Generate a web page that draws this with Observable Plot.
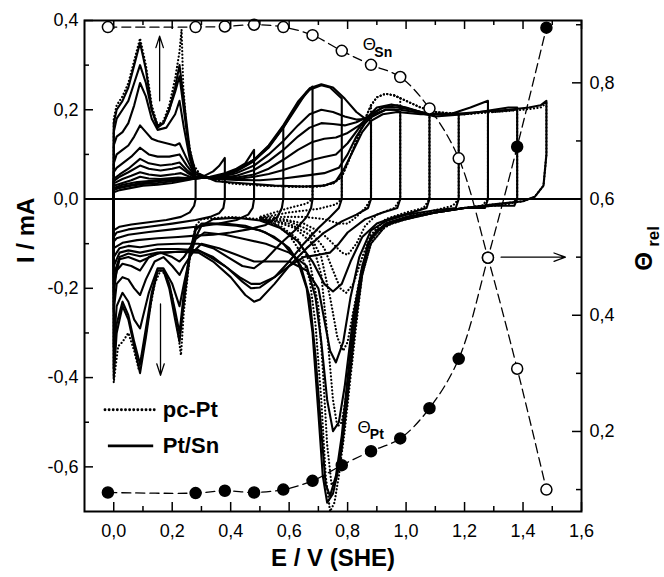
<!DOCTYPE html>
<html><head><meta charset="utf-8">
<script src="https://cdn.jsdelivr.net/npm/d3@7"></script>
<script src="https://cdn.jsdelivr.net/npm/@observablehq/plot@0.6"></script>
<style>body{margin:0;background:#fff}</style>
</head><body><div id="chart"></div>
<script>
// ---- Θ data (right axis) ----
const thetaE  = [-0.02, 0.28, 0.38, 0.48, 0.58, 0.68, 0.78, 0.88, 0.98, 1.08, 1.18, 1.28, 1.38, 1.48];
const thetaSn = [0.896, 0.896, 0.897, 0.900, 0.896, 0.882, 0.855, 0.831, 0.810, 0.756, 0.670, 0.499, 0.308, 0.100];
const thetaPt = [0.095, 0.094, 0.098, 0.095, 0.100, 0.115, 0.142, 0.166, 0.188, 0.240, 0.325, 0.499, 0.690, 0.895];

// ---- Pt/Sn CVs (solid), [E, I], upper limit in the name ----
const S028 = [[0,-0.07],[0,0.015],[0.02,0.02],[0.06,0.025],[0.1,0.03],[0.15,0.032],[0.2,0.036],[0.25,0.042],[0.28,0.046],[0.28,0.0],[0.275,-0.015],[0.26,-0.03],[0.23,-0.04],[0.18,-0.047],[0.12,-0.052],[0.06,-0.057],[0.02,-0.062],[0,-0.07]];
const S038 = [[0,-0.085],[0,0.02],[0.02,0.025],[0.06,0.03],[0.1,0.034],[0.15,0.036],[0.2,0.04],[0.25,0.044],[0.28,0.046],[0.31,0.052],[0.34,0.062],[0.36,0.074],[0.38,0.092],[0.38,0.0],[0.375,-0.02],[0.36,-0.032],[0.33,-0.04],[0.28,-0.047],[0.2,-0.055],[0.12,-0.062],[0.05,-0.068],[0.01,-0.075],[0,-0.085]];
const S048 = [[0,-0.095],[0,0.022],[0.03,0.028],[0.08,0.034],[0.15,0.04],[0.22,0.044],[0.28,0.046],[0.33,0.05],[0.38,0.058],[0.42,0.068],[0.45,0.08],[0.48,0.11],[0.48,0.0],[0.475,-0.02],[0.46,-0.035],[0.42,-0.047],[0.36,-0.055],[0.28,-0.062],[0.2,-0.068],[0.12,-0.074],[0.05,-0.08],[0.01,-0.088],[0,-0.095]];
const S058 = [[0,-0.11],[0,0.025],[0.03,0.032],[0.08,0.038],[0.15,0.042],[0.22,0.045],[0.28,0.046],[0.35,0.05],[0.42,0.062],[0.48,0.085],[0.52,0.11],[0.55,0.135],[0.58,0.164],[0.58,0.0],[0.575,-0.02],[0.56,-0.04],[0.52,-0.058],[0.46,-0.068],[0.4,-0.075],[0.34,-0.08],[0.28,-0.082],[0.22,-0.085],[0.15,-0.088],[0.08,-0.092],[0.03,-0.098],[0,-0.11]];
const S068 = [[0,-0.13],[0,0.03],[0.03,0.036],[0.06,0.042],[0.09,0.05],[0.12,0.046],[0.16,0.045],[0.22,0.048],[0.28,0.046],[0.35,0.05],[0.42,0.064],[0.48,0.088],[0.53,0.115],[0.58,0.16],[0.63,0.21],[0.66,0.24],[0.68,0.252],[0.68,0.0],[0.675,-0.02],[0.66,-0.04],[0.62,-0.07],[0.57,-0.1],[0.52,-0.135],[0.48,-0.155],[0.44,-0.15],[0.39,-0.13],[0.34,-0.11],[0.29,-0.1],[0.22,-0.1],[0.15,-0.102],[0.09,-0.108],[0.05,-0.105],[0.02,-0.11],[0,-0.13]];
const S078 = [[0,-0.15],[0,0.035],[0.03,0.045],[0.06,0.052],[0.09,0.06],[0.12,0.055],[0.16,0.052],[0.21,0.056],[0.23,0.058],[0.26,0.05],[0.28,0.046],[0.35,0.05],[0.42,0.064],[0.48,0.088],[0.53,0.118],[0.58,0.16],[0.63,0.215],[0.67,0.245],[0.71,0.255],[0.74,0.25],[0.78,0.225],[0.78,0.0],[0.77,-0.02],[0.74,-0.04],[0.7,-0.065],[0.65,-0.1],[0.6,-0.14],[0.55,-0.175],[0.5,-0.198],[0.47,-0.2],[0.44,-0.185],[0.39,-0.155],[0.34,-0.13],[0.29,-0.115],[0.22,-0.112],[0.15,-0.112],[0.09,-0.12],[0.05,-0.115],[0.02,-0.12],[0,-0.15]];
const S088 = [[0,-0.17],[0,0.04],[0.02,0.05],[0.05,0.06],[0.09,0.075],[0.12,0.068],[0.16,0.064],[0.2,0.068],[0.225,0.072],[0.25,0.06],[0.28,0.047],[0.35,0.05],[0.42,0.064],[0.48,0.088],[0.53,0.12],[0.58,0.165],[0.63,0.218],[0.67,0.248],[0.71,0.257],[0.75,0.25],[0.79,0.225],[0.83,0.195],[0.86,0.18],[0.88,0.175],[0.88,0.0],[0.87,-0.02],[0.83,-0.035],[0.78,-0.05],[0.72,-0.075],[0.66,-0.11],[0.6,-0.15],[0.55,-0.19],[0.5,-0.225],[0.48,-0.23],[0.45,-0.215],[0.4,-0.175],[0.34,-0.14],[0.29,-0.12],[0.22,-0.118],[0.15,-0.12],[0.09,-0.128],[0.05,-0.122],[0.02,-0.13],[0,-0.17]];
const S098 = [[0,-0.19],[0,0.045],[0.02,0.055],[0.05,0.068],[0.09,0.09],[0.12,0.08],[0.16,0.075],[0.2,0.078],[0.225,0.082],[0.25,0.065],[0.28,0.048],[0.35,0.048],[0.42,0.058],[0.48,0.075],[0.53,0.1],[0.58,0.13],[0.63,0.165],[0.67,0.19],[0.71,0.2],[0.75,0.195],[0.79,0.185],[0.83,0.178],[0.87,0.18],[0.9,0.19],[0.93,0.2],[0.96,0.2],[0.98,0.195],[0.98,0.0],[0.97,-0.02],[0.92,-0.03],[0.86,-0.045],[0.8,-0.075],[0.77,-0.1],[0.74,-0.12],[0.7,-0.125],[0.65,-0.13],[0.6,-0.15],[0.55,-0.175],[0.5,-0.19],[0.47,-0.19],[0.43,-0.175],[0.38,-0.15],[0.33,-0.13],[0.29,-0.115],[0.22,-0.118],[0.15,-0.122],[0.09,-0.14],[0.05,-0.13],[0.02,-0.135],[0,-0.19]];
const S108 = [[0,-0.21],[0,0.06],[0.01,0.07],[0.03,0.08],[0.06,0.095],[0.09,0.115],[0.12,0.1],[0.15,0.095],[0.19,0.095],[0.225,0.1],[0.25,0.075],[0.28,0.05],[0.35,0.047],[0.42,0.052],[0.48,0.065],[0.53,0.085],[0.58,0.11],[0.63,0.14],[0.67,0.16],[0.71,0.17],[0.75,0.168],[0.79,0.165],[0.83,0.172],[0.87,0.185],[0.9,0.205],[0.95,0.212],[1.0,0.205],[1.05,0.195],[1.08,0.19],[1.08,0.0],[1.07,-0.02],[1.02,-0.03],[0.96,-0.04],[0.9,-0.055],[0.85,-0.085],[0.81,-0.14],[0.78,-0.19],[0.75,-0.207],[0.72,-0.19],[0.68,-0.14],[0.63,-0.095],[0.57,-0.065],[0.5,-0.048],[0.42,-0.042],[0.34,-0.045],[0.3,-0.06],[0.27,-0.1],[0.24,-0.13],[0.225,-0.14],[0.2,-0.13],[0.16,-0.12],[0.12,-0.13],[0.09,-0.16],[0.06,-0.15],[0.03,-0.145],[0.01,-0.16],[0,-0.21]];
const S118 = [[0,-0.25],[0,0.08],[0.01,0.1],[0.03,0.11],[0.05,0.12],[0.07,0.14],[0.09,0.165],[0.11,0.15],[0.13,0.135],[0.15,0.13],[0.18,0.125],[0.21,0.12],[0.225,0.125],[0.25,0.09],[0.28,0.05],[0.35,0.046],[0.42,0.048],[0.48,0.055],[0.53,0.068],[0.58,0.088],[0.63,0.11],[0.68,0.128],[0.72,0.135],[0.76,0.138],[0.8,0.148],[0.84,0.165],[0.88,0.19],[0.92,0.205],[0.97,0.205],[1.02,0.2],[1.08,0.19],[1.13,0.19],[1.18,0.192],[1.18,0.0],[1.17,-0.02],[1.1,-0.025],[1.0,-0.035],[0.93,-0.05],[0.88,-0.07],[0.84,-0.13],[0.81,-0.22],[0.785,-0.32],[0.76,-0.366],[0.74,-0.34],[0.72,-0.27],[0.7,-0.2],[0.66,-0.16],[0.6,-0.14],[0.54,-0.14],[0.48,-0.14],[0.42,-0.125],[0.36,-0.11],[0.3,-0.1],[0.27,-0.12],[0.24,-0.15],[0.225,-0.17],[0.2,-0.15],[0.17,-0.13],[0.14,-0.14],[0.11,-0.18],[0.09,-0.215],[0.07,-0.2],[0.05,-0.18],[0.03,-0.175],[0.01,-0.19],[0,-0.25]];
const S128 = [[0,-0.33],[0,0.12],[0.01,0.14],[0.03,0.15],[0.05,0.17],[0.07,0.21],[0.09,0.26],[0.11,0.23],[0.13,0.18],[0.15,0.155],[0.18,0.16],[0.21,0.19],[0.225,0.22],[0.24,0.16],[0.26,0.09],[0.28,0.05],[0.35,0.045],[0.42,0.045],[0.48,0.05],[0.53,0.056],[0.58,0.065],[0.63,0.076],[0.68,0.088],[0.72,0.094],[0.76,0.1],[0.8,0.125],[0.84,0.16],[0.88,0.19],[0.92,0.205],[0.97,0.21],[1.02,0.2],[1.08,0.19],[1.15,0.19],[1.22,0.205],[1.28,0.22],[1.28,0.0],[1.27,-0.02],[1.2,-0.02],[1.1,-0.03],[1.0,-0.04],[0.93,-0.055],[0.88,-0.085],[0.85,-0.15],[0.82,-0.26],[0.79,-0.42],[0.77,-0.5],[0.75,-0.52],[0.73,-0.45],[0.71,-0.32],[0.69,-0.22],[0.66,-0.15],[0.6,-0.12],[0.52,-0.1],[0.45,-0.09],[0.38,-0.08],[0.31,-0.075],[0.28,-0.09],[0.26,-0.13],[0.24,-0.19],[0.225,-0.24],[0.2,-0.19],[0.17,-0.155],[0.15,-0.155],[0.12,-0.21],[0.09,-0.29],[0.07,-0.27],[0.05,-0.23],[0.03,-0.21],[0.01,-0.24],[0,-0.33]];
const S138 = [[0,-0.38],[0,0.15],[0.01,0.18],[0.03,0.2],[0.05,0.22],[0.07,0.26],[0.09,0.3],[0.11,0.26],[0.13,0.2],[0.15,0.165],[0.17,0.17],[0.19,0.2],[0.21,0.24],[0.225,0.275],[0.24,0.2],[0.26,0.1],[0.28,0.055],[0.35,0.045],[0.42,0.043],[0.5,0.042],[0.58,0.046],[0.65,0.052],[0.72,0.058],[0.77,0.07],[0.8,0.1],[0.83,0.14],[0.86,0.17],[0.89,0.19],[0.93,0.2],[0.98,0.2],[1.03,0.195],[1.1,0.185],[1.2,0.19],[1.3,0.2],[1.35,0.205],[1.38,0.205],[1.38,0.0],[1.37,-0.015],[1.3,-0.015],[1.2,-0.02],[1.1,-0.03],[1.0,-0.045],[0.94,-0.055],[0.9,-0.07],[0.87,-0.1],[0.85,-0.16],[0.82,-0.28],[0.8,-0.4],[0.78,-0.53],[0.76,-0.62],[0.74,-0.665],[0.725,-0.64],[0.71,-0.52],[0.69,-0.35],[0.67,-0.22],[0.64,-0.15],[0.6,-0.11],[0.55,-0.085],[0.5,-0.07],[0.42,-0.06],[0.33,-0.055],[0.28,-0.065],[0.26,-0.12],[0.24,-0.21],[0.225,-0.3],[0.21,-0.25],[0.19,-0.19],[0.17,-0.16],[0.15,-0.16],[0.13,-0.21],[0.11,-0.29],[0.09,-0.37],[0.07,-0.32],[0.05,-0.26],[0.03,-0.23],[0.01,-0.28],[0,-0.38]];
const S148 = [[0,-0.4],[0,0.17],[0.01,0.2],[0.03,0.22],[0.05,0.25],[0.07,0.3],[0.09,0.35],[0.11,0.29],[0.13,0.2],[0.15,0.16],[0.17,0.17],[0.19,0.2],[0.21,0.25],[0.225,0.3],[0.24,0.22],[0.26,0.11],[0.28,0.06],[0.35,0.04],[0.45,0.035],[0.55,0.03],[0.65,0.028],[0.72,0.03],[0.76,0.04],[0.79,0.07],[0.82,0.11],[0.85,0.15],[0.88,0.175],[0.92,0.19],[0.97,0.195],[1.05,0.19],[1.15,0.19],[1.25,0.195],[1.35,0.2],[1.42,0.205],[1.46,0.21],[1.48,0.22],[1.48,0.1],[1.47,0.03],[1.44,0.005],[1.4,-0.005],[1.3,-0.012],[1.2,-0.02],[1.1,-0.03],[1.0,-0.042],[0.95,-0.052],[0.9,-0.07],[0.87,-0.1],[0.85,-0.16],[0.83,-0.26],[0.81,-0.38],[0.79,-0.5],[0.77,-0.6],[0.75,-0.66],[0.73,-0.68],[0.715,-0.62],[0.7,-0.48],[0.68,-0.3],[0.66,-0.2],[0.63,-0.14],[0.58,-0.1],[0.52,-0.075],[0.45,-0.06],[0.38,-0.055],[0.3,-0.055],[0.28,-0.07],[0.26,-0.13],[0.24,-0.23],[0.225,-0.32],[0.21,-0.27],[0.19,-0.2],[0.17,-0.16],[0.15,-0.16],[0.13,-0.22],[0.11,-0.31],[0.09,-0.39],[0.07,-0.33],[0.05,-0.27],[0.03,-0.24],[0.01,-0.3],[0,-0.4]];

// ---- pc-Pt CVs (dotted): full CV to 1.48 V and the oxide-region parts for lower limits ----
const P148 = [[0,-0.41],[0,0.18],[0.01,0.21],[0.03,0.23],[0.05,0.26],[0.07,0.31],[0.09,0.36],[0.11,0.3],[0.13,0.21],[0.15,0.165],[0.17,0.175],[0.19,0.21],[0.21,0.27],[0.225,0.33],[0.232,0.38],[0.238,0.25],[0.25,0.15],[0.27,0.08],[0.3,0.05],[0.4,0.035],[0.5,0.03],[0.6,0.028],[0.7,0.028],[0.75,0.035],[0.78,0.05],[0.8,0.08],[0.83,0.13],[0.86,0.18],[0.88,0.21],[0.9,0.228],[0.93,0.236],[0.96,0.232],[1.0,0.22],[1.05,0.205],[1.1,0.195],[1.2,0.19],[1.3,0.195],[1.4,0.2],[1.46,0.205],[1.48,0.215],[1.48,0.1],[1.47,0.03],[1.44,0.005],[1.4,-0.005],[1.3,-0.012],[1.2,-0.02],[1.1,-0.03],[1.0,-0.045],[0.95,-0.055],[0.9,-0.075],[0.87,-0.11],[0.85,-0.17],[0.83,-0.28],[0.81,-0.4],[0.79,-0.52],[0.77,-0.62],[0.755,-0.68],[0.74,-0.7],[0.725,-0.62],[0.71,-0.45],[0.69,-0.28],[0.67,-0.18],[0.64,-0.12],[0.6,-0.08],[0.55,-0.055],[0.5,-0.045],[0.4,-0.04],[0.3,-0.045],[0.28,-0.06],[0.26,-0.13],[0.24,-0.25],[0.23,-0.35],[0.22,-0.3],[0.2,-0.22],[0.18,-0.17],[0.16,-0.16],[0.14,-0.19],[0.12,-0.26],[0.1,-0.34],[0.085,-0.38],[0.07,-0.34],[0.05,-0.3],[0.03,-0.32],[0.015,-0.33],[0,-0.41]];
const P068 = [[0.6,0.028],[0.68,0.028],[0.68,0.0],[0.66,-0.01],[0.6,-0.02],[0.55,-0.03],[0.5,-0.04]];
const P078 = [[0.6,0.028],[0.7,0.028],[0.75,0.035],[0.78,0.05],[0.78,0.0],[0.76,-0.012],[0.7,-0.022],[0.6,-0.03],[0.5,-0.042]];
const P088 = [[0.75,0.035],[0.78,0.05],[0.8,0.08],[0.83,0.13],[0.86,0.18],[0.88,0.21],[0.88,0.0],[0.86,-0.02],[0.83,-0.04],[0.8,-0.055],[0.77,-0.055],[0.72,-0.045],[0.65,-0.04],[0.58,-0.04],[0.5,-0.042]];
const P098 = [[0.88,0.21],[0.9,0.228],[0.93,0.236],[0.96,0.232],[0.98,0.226],[0.98,0.0],[0.96,-0.02],[0.9,-0.035],[0.86,-0.06],[0.83,-0.1],[0.8,-0.125],[0.78,-0.12],[0.75,-0.1],[0.71,-0.075],[0.65,-0.055],[0.58,-0.045],[0.5,-0.043]];
const P108 = [[0.96,0.232],[1.0,0.22],[1.05,0.205],[1.08,0.2],[1.08,0.0],[1.06,-0.02],[1.0,-0.03],[0.93,-0.045],[0.88,-0.08],[0.85,-0.13],[0.82,-0.19],[0.795,-0.21],[0.775,-0.2],[0.75,-0.16],[0.72,-0.11],[0.67,-0.07],[0.6,-0.05],[0.5,-0.045]];
const P118 = [[1.1,0.195],[1.18,0.19],[1.18,0.0],[1.16,-0.015],[1.1,-0.025],[1.0,-0.04],[0.93,-0.055],[0.88,-0.09],[0.85,-0.15],[0.82,-0.25],[0.8,-0.32],[0.785,-0.34],[0.765,-0.31],[0.74,-0.22],[0.71,-0.13],[0.67,-0.08],[0.6,-0.055],[0.5,-0.045]];
const P128 = [[1.2,0.19],[1.28,0.195],[1.28,0.0],[1.26,-0.015],[1.2,-0.02],[1.1,-0.03],[1.0,-0.043],[0.93,-0.06],[0.88,-0.1],[0.85,-0.17],[0.82,-0.3],[0.8,-0.42],[0.78,-0.5],[0.765,-0.51],[0.75,-0.45],[0.73,-0.3],[0.71,-0.17],[0.68,-0.1],[0.62,-0.065],[0.55,-0.05],[0.5,-0.045]];
const P138 = [[1.3,0.195],[1.38,0.2],[1.38,0.0],[1.36,-0.01],[1.3,-0.015],[1.2,-0.02],[1.1,-0.03],[1.0,-0.045],[0.93,-0.06],[0.88,-0.1],[0.85,-0.17],[0.82,-0.31],[0.8,-0.44],[0.78,-0.56],[0.76,-0.63],[0.745,-0.64],[0.73,-0.55],[0.715,-0.38],[0.7,-0.24],[0.67,-0.14],[0.63,-0.09],[0.57,-0.06],[0.5,-0.045]];

// ---- ticks, annotations ----
const xMajor = [0, 0.2, 0.4, 0.6, 0.8, 1.0, 1.2, 1.4, 1.6];
const xMinor = [0.1, 0.3, 0.5, 0.7, 0.9, 1.1, 1.3, 1.5];
const yMajor = [-0.6, -0.4, -0.2, 0, 0.2, 0.4];
const yMinor = [-0.5, -0.3, -0.1, 0.1, 0.3];
const thMajor = [0.2, 0.4, 0.6, 0.8];
const thMinor = [0.1, 0.3, 0.5, 0.7, 0.9];
const legendItems = [
  {x1: -0.03, x2: 0.14, y: -0.472, label: "pc-Pt", dotted: true},
  {x1: -0.02, x2: 0.135, y: -0.553, label: "Pt/Sn", dotted: false}
];
const iArrows = [{x1: 0.157, y1: 0.22, x2: 0.157, y2: 0.365}, {x1: 0.16, y1: -0.235, x2: 0.16, y2: -0.395}];
const thArrow = [{x1: 1.325, t: 0.5, x2: 1.545}];
const thLabels = [
  {E: 0.874, t: 0.866, main: "Θ", sub: "Sn", sE: 0.922, st: 0.853},
  {E: 0.856, t: 0.207, main: "Θ", sub: "Pt", sE: 0.9, st: 0.194}
];

// ---- scales ----
const thetaToI = t => (t - 0.6) * 1.1 / 0.845;   // right axis shares the frame
const iToTheta = i => i * 0.845 / 1.1 + 0.6;
const fmt = d => (Math.abs(d) < 1e-9 ? 0 : d).toFixed(1).replace(".", ",");

const W = 664, H = 577, mL = 84, mR = 83, mT = 20, mB = 66;
const innerW = W - mL - mR, innerH = H - mT - mB;

const toRows = (obj) => Object.entries(obj).flatMap(([id, pts]) => pts.map(([E, I]) => ({id, E, I})));
const solidRows = toRows({S028, S038, S048, S058, S068, S078, S088, S098, S108, S118, S128, S138, S148});
const dotRows = toRows({P148, P068, P078, P088, P098, P108, P118, P128, P138});
const thRows = thetaE.map((E, i) => ({E, sn: thetaSn[i], pt: thetaPt[i]}));

const FONT = "Liberation Sans, Arial, Helvetica, sans-serif";

const plot = Plot.plot({
  width: W, height: H,
  marginLeft: mL, marginRight: mR, marginTop: mT, marginBottom: mB,
  style: {fontFamily: FONT, background: "white", color: "black"},
  x: {domain: [-0.1, 1.6]},
  y: {domain: [-0.7, 0.4]},
  marks: [
    // CVs
    Plot.line(dotRows, {x: "E", y: "I", z: "id", stroke: "black", strokeWidth: 2.2, strokeDasharray: "0.1,3.4", strokeLinecap: "round", strokeLinejoin: "round"}),
    Plot.line(solidRows, {x: "E", y: "I", z: "id", stroke: "black", strokeWidth: 2.1, strokeLinejoin: "round"}),
    Plot.ruleY([0], {stroke: "black", strokeWidth: 2}),
    // Θ curves
    Plot.line(thRows, {x: "E", y: d => thetaToI(d.sn), curve: "catmull-rom", stroke: "black", strokeWidth: 1.3, strokeDasharray: "9,5"}),
    Plot.line(thRows, {x: "E", y: d => thetaToI(d.pt), curve: "catmull-rom", stroke: "black", strokeWidth: 1.3, strokeDasharray: "9,5"}),
    Plot.dot(thRows, {x: "E", y: d => thetaToI(d.pt), r: 5.5, fill: "black", stroke: "black"}),
    Plot.dot(thRows, {x: "E", y: d => thetaToI(d.sn), r: 5.5, fill: "white", stroke: "black", strokeWidth: 1.5}),
    Plot.text(thLabels, {x: "E", y: d => thetaToI(d.t), text: "main", fontSize: 17}),
    Plot.text(thLabels, {x: "sE", y: d => thetaToI(d.st), text: "sub", fontSize: 14, fontWeight: "bold"}),
    // arrows
    Plot.arrow(iArrows, {x1: "x1", y1: "y1", x2: "x2", y2: "y2", stroke: "black", strokeWidth: 1.3, headLength: 14, headAngle: 36}),
    Plot.arrow(thArrow, {x1: "x1", y1: d => thetaToI(d.t), x2: "x2", y2: d => thetaToI(d.t), stroke: "black", strokeWidth: 1.3, headLength: 14, headAngle: 40}),
    // legend
    Plot.link(legendItems.filter(d => d.dotted), {x1: "x1", x2: "x2", y1: "y", y2: "y", stroke: "black", strokeWidth: 2.8, strokeDasharray: "0.1,4", strokeLinecap: "round"}),
    Plot.link(legendItems.filter(d => !d.dotted), {x1: "x1", x2: "x2", y1: "y", y2: "y", stroke: "black", strokeWidth: 2.8}),
    Plot.text(legendItems, {x: d => 0.168, y: "y", text: "label", textAnchor: "start", fontSize: 22, fontWeight: "bold"}),
    // frame and inward ticks
    Plot.frame({stroke: "black", strokeWidth: 2}),
    Plot.tickX(xMajor, {x: d => d, insetTop: innerH - 9, stroke: "black", strokeWidth: 1.5}),
    Plot.tickX(xMinor, {x: d => d, insetTop: innerH - 5, stroke: "black", strokeWidth: 1.5}),
    Plot.tickX(xMajor, {x: d => d, insetBottom: innerH - 9, stroke: "black", strokeWidth: 1.5}),
    Plot.tickX(xMinor, {x: d => d, insetBottom: innerH - 5, stroke: "black", strokeWidth: 1.5}),
    Plot.tickY(yMajor, {y: d => d, insetRight: innerW - 9, stroke: "black", strokeWidth: 1.5}),
    Plot.tickY(yMinor, {y: d => d, insetRight: innerW - 5, stroke: "black", strokeWidth: 1.5}),
    Plot.tickY(thMajor, {y: d => thetaToI(d), insetLeft: innerW - 9, stroke: "black", strokeWidth: 1.5}),
    Plot.tickY(thMinor, {y: d => thetaToI(d), insetLeft: innerW - 5, stroke: "black", strokeWidth: 1.5}),
    // tick labels
    Plot.axisX({ticks: xMajor, tickSize: 0, tickPadding: 13, tickFormat: fmt, fontSize: 18, label: null}),
    Plot.axisY({ticks: yMajor, tickSize: 0, tickPadding: 6, tickFormat: fmt, fontSize: 18, label: null}),
    Plot.axisY({anchor: "right", ticks: thMajor.map(thetaToI), tickSize: 0, tickPadding: 8, tickFormat: d => fmt(iToTheta(d)), fontSize: 18, label: null}),
    // axis titles
    Plot.text(["E / V (SHE)"], {frameAnchor: "bottom", dy: 54, fontSize: 24, fontWeight: "bold"}),
    Plot.text(["I / mA"], {frameAnchor: "left", dx: -58, dy: -3, rotate: -90, fontSize: 24, fontWeight: "bold"}),
    Plot.text(["Θ"], {frameAnchor: "right", dx: 63, dy: -14, rotate: -90, fontSize: 24, fontWeight: "bold"}),
    Plot.text(["rel"], {frameAnchor: "right", dx: 72, dy: -40, rotate: -90, fontSize: 17, fontWeight: "bold"})
  ]
});
document.getElementById("chart").append(plot);
</script></body></html>
